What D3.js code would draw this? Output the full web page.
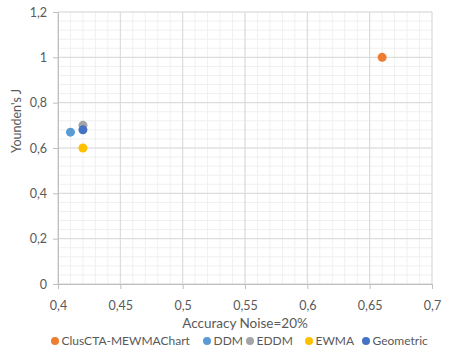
<!DOCTYPE html>
<html>
<head>
<meta charset="utf-8">
<script src="https://cdn.jsdelivr.net/npm/d3@7"></script>
<style>
  body { margin: 0; background: #fff; }
  text { font-family: Lato, "Open Sans", sans-serif; fill: #595959; }
</style>
</head>
<body>
<div id="chart"></div>
<script>
const series = ['ClusCTA-MEWMAChart', 'DDM', 'EDDM', 'EWMA', 'Geometric'];
const colors = ['#ED7D31', '#5B9BD5', '#A5A5A5', '#FFC000', '#4472C4'];
const accuracy = [0.66, 0.41, 0.42, 0.42, 0.42];
const youden = [1.0, 0.67, 0.70, 0.60, 0.68];
const xTicks = [0.4, 0.45, 0.5, 0.55, 0.6, 0.65, 0.7];
const yTicks = [0, 0.2, 0.4, 0.6, 0.8, 1, 1.2];

let width = 452, height = 354,
    margin = {left: 58, top: 12, right: 20, bottom: 70},
    plotW = 432 - margin.left,
    plotH = 284 - margin.top;

let svg = d3.select('#chart').append('svg')
    .attr('width', width)
    .attr('height', height);

let g = svg.append('g')
    .attr('transform', `translate(${margin.left}, ${margin.top})`);

let x = d3.scaleLinear().domain([0.4, 0.7]).range([0, plotW]);
let y = d3.scaleLinear().domain([0, 1.2]).range([plotH, 0]);

const fmt = d => d3.format('')(d).replace('.', ',');

// minor grid
g.append('g').selectAll('line')
    .data(d3.range(0, 31).map(i => 0.4 + i * 0.01))
    .join('line')
    .attr('x1', d => x(d)).attr('x2', d => x(d))
    .attr('y1', 0).attr('y2', plotH)
    .attr('stroke', '#f0f0f0');
g.append('g').selectAll('line')
    .data(d3.range(0, 31).map(i => i * 0.04))
    .join('line')
    .attr('y1', d => y(d)).attr('y2', d => y(d))
    .attr('x1', 0).attr('x2', plotW)
    .attr('stroke', '#f0f0f0');

// major grid
g.append('g').selectAll('line')
    .data(xTicks)
    .join('line')
    .attr('x1', d => x(d)).attr('x2', d => x(d))
    .attr('y1', 0).attr('y2', plotH)
    .attr('stroke', '#d9d9d9');
g.append('g').selectAll('line')
    .data(yTicks)
    .join('line')
    .attr('y1', d => y(d)).attr('y2', d => y(d))
    .attr('x1', 0).attr('x2', plotW)
    .attr('stroke', '#d9d9d9');

let xAxis = g.append('g')
    .attr('transform', `translate(0, ${plotH})`)
    .call(d3.axisBottom(x).tickValues(xTicks).tickFormat(fmt).tickSizeInner(5).tickSizeOuter(0).tickPadding(12));
let yAxis = g.append('g')
    .call(d3.axisLeft(y).tickValues(yTicks).tickFormat(fmt).tickSizeInner(5).tickSizeOuter(0).tickPadding(6));

[xAxis, yAxis].forEach(a => {
    a.select('.domain').attr('stroke', '#bfbfbf');
    a.selectAll('.tick line').attr('stroke', '#bfbfbf');
    a.selectAll('.tick text').attr('font-size', 12.5).attr('font-family', 'Lato, sans-serif').attr('fill', '#595959');
});

// points
g.append('g').selectAll('circle')
    .data(series)
    .join('circle')
    .attr('cx', (d, i) => x(accuracy[i]))
    .attr('cy', (d, i) => y(youden[i]))
    .attr('r', 4.5)
    .attr('fill', (d, i) => colors[i]);

// axis titles
svg.append('text')
    .attr('x', margin.left + plotW / 2)
    .attr('y', 328)
    .attr('text-anchor', 'middle')
    .attr('font-size', 13.5)
    .text('Accuracy Noise=20%');

svg.append('text')
    .attr('transform', `translate(21, 121) rotate(-90)`)
    .attr('text-anchor', 'middle')
    .attr('font-size', 12.5)
    .text("Younden's J");

// legend
const legendX = [55, 207, 250, 309, 366];
let legend = svg.append('g').selectAll('g')
    .data(series)
    .join('g')
    .attr('transform', (d, i) => `translate(${legendX[i]}, 341)`);
legend.append('circle')
    .attr('r', 4)
    .attr('fill', (d, i) => colors[i]);
legend.append('text')
    .attr('x', 6.5)
    .attr('dy', '0.35em')
    .attr('font-size', 12)
    .text(d => d);
</script>
</body>
</html>
